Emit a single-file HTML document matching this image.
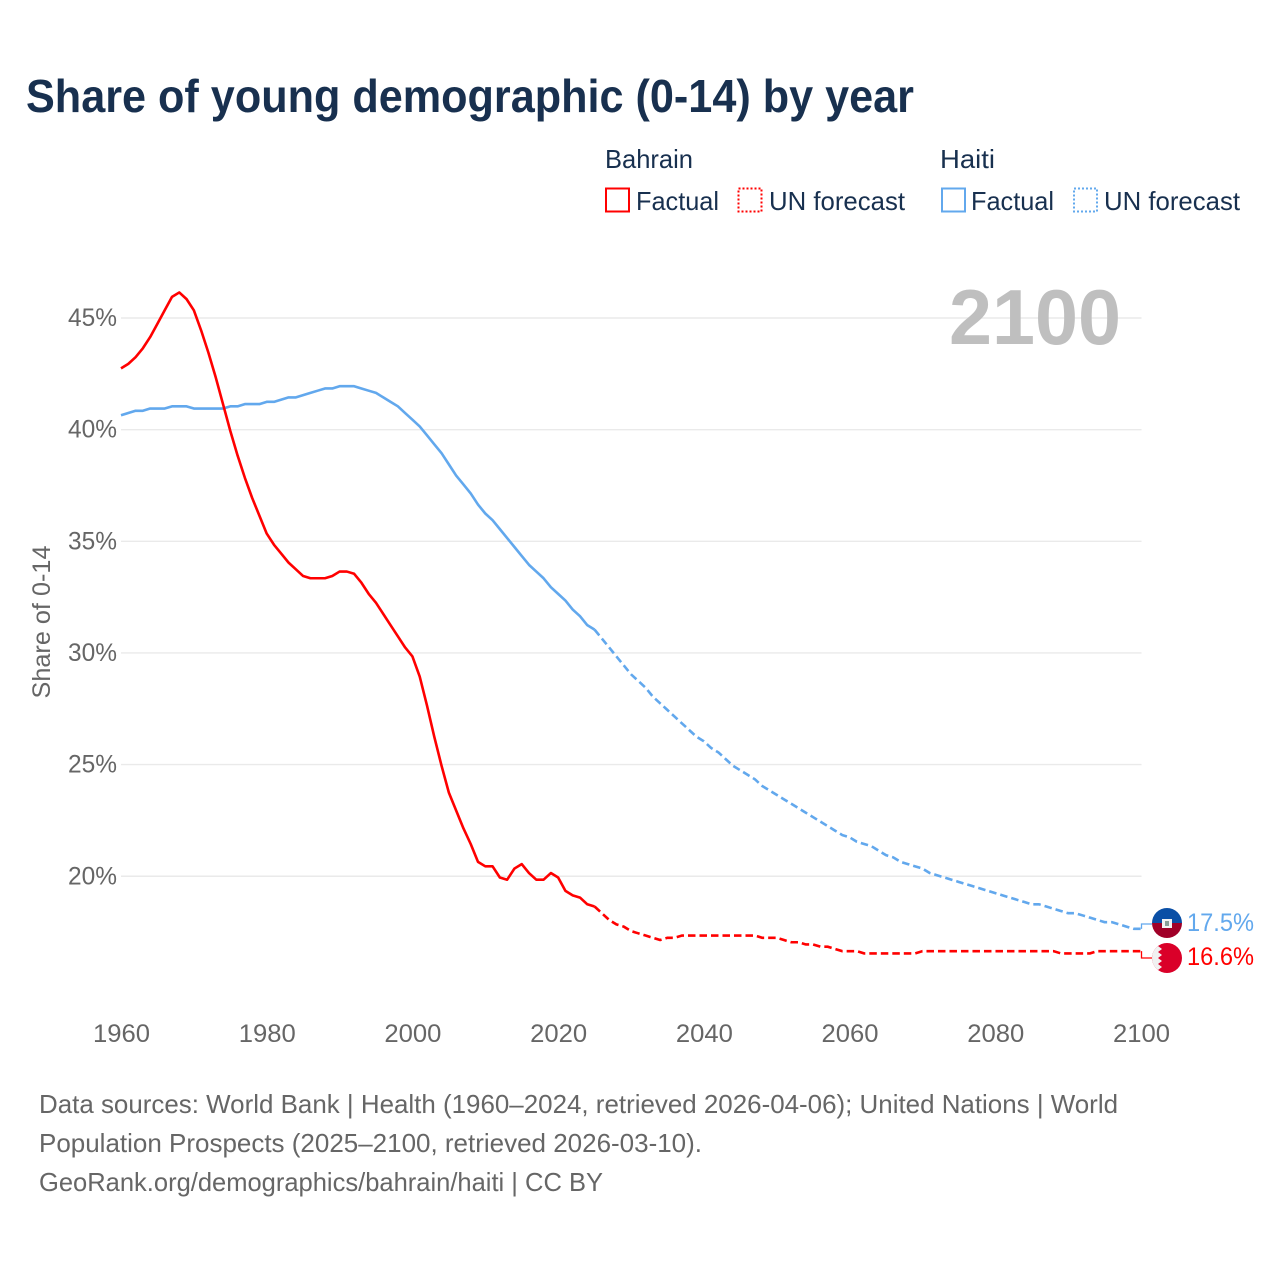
<!DOCTYPE html>
<html lang="en">
<head>
<meta charset="utf-8">
<title>Share of young demographic (0-14) by year</title>
<style>
html,body{margin:0;padding:0;background:#fff;}
svg{display:block;font-family:"Liberation Sans",sans-serif;}
</style>
</head>
<body>
<svg id="chart" width="1280" height="1280" viewBox="0 0 1280 1280" xmlns="http://www.w3.org/2000/svg">
  <rect width="1280" height="1280" fill="#ffffff"/>
  <text x="26" y="112" font-size="46" font-weight="700" fill="#18304f" textLength="888" lengthAdjust="spacingAndGlyphs">Share of young demographic (0-14) by year</text>

  <g font-size="26" fill="#18304f">
    <text x="605" y="168" textLength="88" lengthAdjust="spacingAndGlyphs">Bahrain</text>
    <rect x="606" y="188.5" width="23" height="23" fill="none" stroke="#ff0000" stroke-width="2"/>
    <text x="636" y="210" textLength="83" lengthAdjust="spacingAndGlyphs">Factual</text>
    <rect x="738.5" y="188.5" width="23" height="23" fill="none" stroke="#ff0000" stroke-width="2" stroke-dasharray="2 2"/>
    <text x="769" y="210" textLength="136" lengthAdjust="spacingAndGlyphs">UN forecast</text>
    <text x="940" y="168" textLength="55" lengthAdjust="spacingAndGlyphs">Haiti</text>
    <rect x="942" y="188.5" width="23" height="23" fill="none" stroke="#62a8ed" stroke-width="2"/>
    <text x="971" y="210" textLength="83" lengthAdjust="spacingAndGlyphs">Factual</text>
    <rect x="1074" y="188.5" width="23" height="23" fill="none" stroke="#62a8ed" stroke-width="2" stroke-dasharray="2 2"/>
    <text x="1104" y="210" textLength="136" lengthAdjust="spacingAndGlyphs">UN forecast</text>
  </g>

  <g id="grid"></g>
  <g id="yticks"></g>
  <g id="xticks"></g>

  <text transform="translate(50 622) rotate(-90)" text-anchor="middle" font-size="25" fill="#666666" textLength="153" lengthAdjust="spacingAndGlyphs">Share of 0-14</text>

  <text x="1121" y="344" text-anchor="end" font-size="78" font-weight="700" fill="#bfbfbf" textLength="172" lengthAdjust="spacingAndGlyphs">2100</text>

  <g id="series"></g>

  <defs>
    <clipPath id="clip-haiti"><circle cx="1167" cy="923" r="15"/></clipPath>
    <clipPath id="clip-bahrain"><circle cx="1167" cy="958" r="15"/></clipPath>
  </defs>
  <g clip-path="url(#clip-haiti)">
    <rect x="1152" y="908" width="30" height="15" fill="#0a4fa6"/>
    <rect x="1152" y="923" width="30" height="15" fill="#a00028"/>
    <rect x="1162" y="919" width="10" height="9" fill="#f4f4f4"/>
    <rect x="1165" y="921" width="4" height="5" fill="#8a9f98"/>
  </g>
  <g clip-path="url(#clip-bahrain)">
    <rect x="1152" y="943" width="30" height="30" fill="#da0029"/>
    <polygon points="1152,943 1162,943 1158,946 1162,949 1158,952 1162,955 1158,958 1162,961 1158,964 1162,967 1158,970 1162,973 1152,973" fill="#f1f1f1"/>
  </g>

  <text x="1187" y="931" font-size="25" fill="#62a8ed" textLength="67" lengthAdjust="spacingAndGlyphs">17.5%</text>
  <text x="1187" y="965" font-size="25" fill="#ff0000" textLength="67" lengthAdjust="spacingAndGlyphs">16.6%</text>

  <g font-size="26" fill="#666666">
    <text x="39" y="1113" textLength="1079" lengthAdjust="spacingAndGlyphs">Data sources: World Bank | Health (1960–2024, retrieved 2026-04-06); United Nations | World</text>
    <text x="39" y="1152" textLength="663" lengthAdjust="spacingAndGlyphs">Population Prospects (2025–2100, retrieved 2026-03-10).</text>
    <text x="39" y="1191" textLength="564" lengthAdjust="spacingAndGlyphs">GeoRank.org/demographics/bahrain/haiti | CC BY</text>
  </g>
</svg>
<script>
const xTickYears = [1960, 1980, 2000, 2020, 2040, 2060, 2080, 2100];
const yTickValues = [20, 25, 30, 35, 40, 45];
const factualStartYear = 1960;
const forecastStartYear = 2025;
const bahrainFactual = [42.7,42.9,43.2,43.6,44.1,44.7,45.3,45.9,46.1,45.8,45.3,44.4,43.4,42.3,41.1,39.9,38.8,37.8,36.9,36.1,35.3,34.8,34.4,34.0,33.7,33.4,33.3,33.3,33.3,33.4,33.6,33.6,33.5,33.1,32.6,32.2,31.7,31.2,30.7,30.2,29.8,28.9,27.6,26.2,24.9,23.7,22.9,22.1,21.4,20.6,20.4,20.4,19.9,19.8,20.3,20.5,20.1,19.8,19.8,20.1,19.9,19.3,19.1,19.0,18.7,18.6];
const bahrainForecast = [18.6,18.3,18.0,17.8,17.7,17.5,17.4,17.3,17.2,17.1,17.2,17.2,17.3,17.3,17.3,17.3,17.3,17.3,17.3,17.3,17.3,17.3,17.3,17.2,17.2,17.2,17.1,17.0,17.0,16.9,16.9,16.8,16.8,16.7,16.6,16.6,16.6,16.5,16.5,16.5,16.5,16.5,16.5,16.5,16.5,16.6,16.6,16.6,16.6,16.6,16.6,16.6,16.6,16.6,16.6,16.6,16.6,16.6,16.6,16.6,16.6,16.6,16.6,16.6,16.5,16.5,16.5,16.5,16.5,16.6,16.6,16.6,16.6,16.6,16.6,16.6];
const haitiFactual = [40.6,40.7,40.8,40.8,40.9,40.9,40.9,41.0,41.0,41.0,40.9,40.9,40.9,40.9,40.9,41.0,41.0,41.1,41.1,41.1,41.2,41.2,41.3,41.4,41.4,41.5,41.6,41.7,41.8,41.8,41.9,41.9,41.9,41.8,41.7,41.6,41.4,41.2,41.0,40.7,40.4,40.1,39.7,39.3,38.9,38.4,37.9,37.5,37.1,36.6,36.2,35.9,35.5,35.1,34.7,34.3,33.9,33.6,33.3,32.9,32.6,32.3,31.9,31.6,31.2,31.0];
const haitiForecast = [31.0,30.6,30.2,29.8,29.4,29.0,28.7,28.4,28.0,27.7,27.4,27.1,26.8,26.5,26.2,26.0,25.7,25.5,25.2,24.9,24.7,24.5,24.3,24.0,23.8,23.6,23.4,23.2,23.0,22.8,22.6,22.4,22.2,22.0,21.8,21.7,21.5,21.4,21.3,21.1,20.9,20.8,20.6,20.5,20.4,20.3,20.1,20.0,19.9,19.8,19.7,19.6,19.5,19.4,19.3,19.2,19.1,19.0,18.9,18.8,18.7,18.7,18.6,18.5,18.4,18.3,18.3,18.2,18.1,18.0,17.9,17.9,17.8,17.7,17.6,17.6];

const NS = 'http://www.w3.org/2000/svg';
const xScale = function (year) { return 121 + (year - 1960) * (1020 / 140); };
const yScale = function (value) { return 318 + (45 - value) * 22.33; };
const lineY = function (value) { return yScale(value) - 1; };

function make(tag, attrs, parent) {
  const el = document.createElementNS(NS, tag);
  Object.keys(attrs).forEach(function (k) { el.setAttribute(k, attrs[k]); });
  parent.appendChild(el);
  return el;
}

const gridGroup = document.getElementById('grid');
const yGroup = document.getElementById('yticks');
const xGroup = document.getElementById('xticks');
const seriesGroup = document.getElementById('series');

yTickValues.forEach(function (v) {
  const line = make('line', { x1: 121, x2: 1141.5, y1: yScale(v), y2: yScale(v), stroke: '#eaeaea', 'stroke-width': 1.4 }, gridGroup);
  
  
  const label = make('text', { x: 117, y: yScale(v) + 8, 'text-anchor': 'end', 'font-size': 25, fill: '#666666', textLength: 49, lengthAdjust: 'spacingAndGlyphs' }, yGroup);
  label.textContent = v + '%';
  
  
});

xTickYears.forEach(function (yr) {
  const label = make('text', { x: xScale(yr) + 0.5, y: 1042, 'text-anchor': 'middle', 'font-size': 25, fill: '#666666', textLength: 57, lengthAdjust: 'spacingAndGlyphs' }, xGroup);
  label.textContent = String(yr);
  
  
});

function pathFrom(values, startYear) {
  return values.map(function (v, i) {
    return (i ? 'L' : 'M') + xScale(startYear + i).toFixed(2) + ' ' + lineY(v).toFixed(2);
  }).join(' ');
}

const haitiFactualLine = make('path', { d: pathFrom(haitiFactual, factualStartYear), fill: 'none', stroke: '#62a8ed', 'stroke-width': 2.6, 'stroke-linejoin': 'round' }, seriesGroup);



const haitiForecastLine = make('path', { d: pathFrom(haitiForecast, forecastStartYear), fill: 'none', stroke: '#62a8ed', 'stroke-width': 2.6, 'stroke-dasharray': '7.5 4' }, seriesGroup);



const bahrainFactualLine = make('path', { d: pathFrom(bahrainFactual, factualStartYear), fill: 'none', stroke: '#ff0000', 'stroke-width': 2.6, 'stroke-linejoin': 'round' }, seriesGroup);



const bahrainForecastLine = make('path', { d: pathFrom(bahrainForecast, forecastStartYear), fill: 'none', stroke: '#ff0000', 'stroke-width': 2.6, 'stroke-dasharray': '7.5 4' }, seriesGroup);



const haitiEnd = haitiForecast[haitiForecast.length - 1];
const haitiLeader = make('path', { d: 'M' + (xScale(2100) + 0.5) + ' ' + lineY(haitiEnd) + ' V924 H1152', fill: 'none', stroke: '#62a8ed', 'stroke-width': 1.3 }, seriesGroup);



const bahrainEnd = bahrainForecast[bahrainForecast.length - 1];
const bahrainLeader = make('path', { d: 'M' + (xScale(2100) + 0.5) + ' ' + lineY(bahrainEnd) + ' V958 H1152', fill: 'none', stroke: '#ff0000', 'stroke-width': 1.3 }, seriesGroup);


</script>
</body>
</html>
